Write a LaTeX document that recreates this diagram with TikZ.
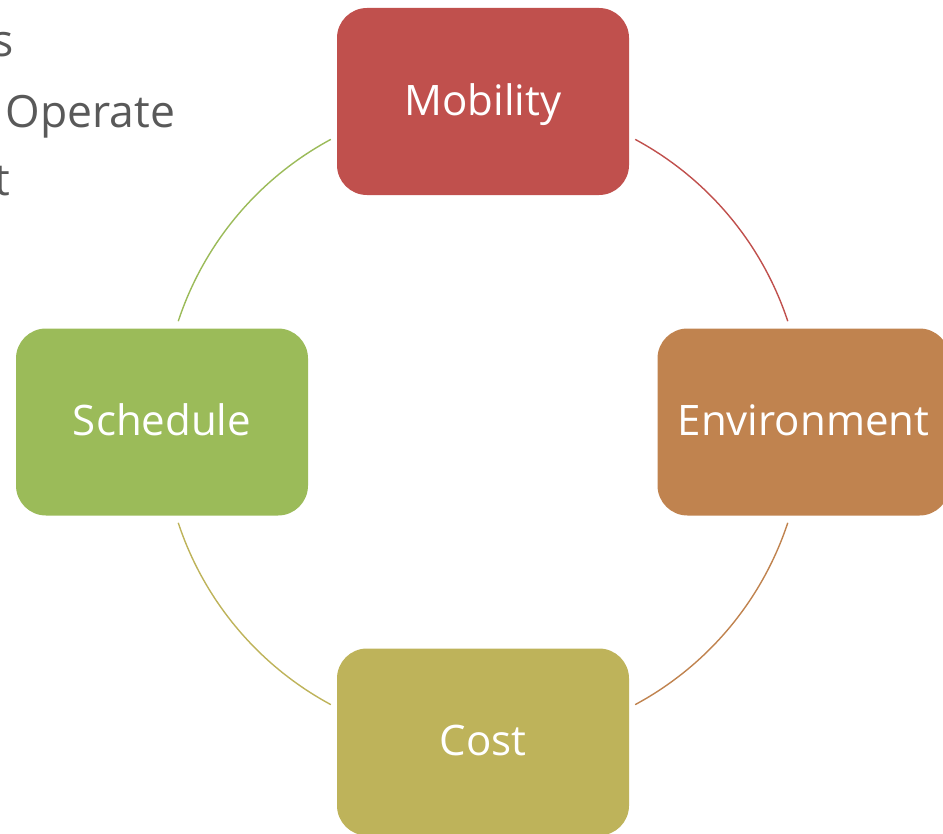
\documentclass[tikz,border=0pt]{standalone}
\usepackage{fontspec}
\setmainfont{Open Sans}
\definecolor{mobc}{HTML}{C0504D}
\definecolor{envc}{HTML}{C0834F}
\definecolor{costc}{HTML}{BEB35A}
\definecolor{schc}{HTML}{9BBB59}
\definecolor{txtc}{HTML}{595959}
\tikzset{
  topic/.style={rounded corners=0.6cm,minimum width=5.84cm,minimum height=3.74cm,inner sep=0pt,text=white,font=\fontsize{23.9}{28}\selectfont,text height=15.8pt,text depth=0pt},
  ring/.style={line width=0.8pt},
  side/.style={font=\fontsize{25.3}{30}\selectfont,text=txtc,inner sep=0pt},
}
\begin{document}
\begin{tikzpicture}
  \useasboundingbox (0,0) rectangle (18.86,-16.66);
  \clip (0,0) rectangle (18.86,-16.66);
  \node[side,anchor=base east] (s1) at (0.28,-1.14) {s};
  \node[side,anchor=base west] (s2) at (0.11,-2.56) {Operate};
  \node[side,anchor=base east] (s3) at (0.21,-3.92) {t};
  \coordinate (ctr) at (9.66,-8.44);
  \node[topic,fill=mobc] (mob) at (9.66,-2.03) {Mobility};
  \node[topic,fill=envc] (env) at (16.07,-8.44) {Environment};
  \node[topic,fill=costc] (cost) at (9.66,-14.84) {Cost};
  \node[topic,fill=schc] (sch) at (3.24,-8.44) {Schedule};
  \foreach \a/\c in {61.7/mobc,-18.3/envc,-118.3/costc,161.7/schc}
    \draw[ring,draw=\c] ([shift={(\a:6.42)}]ctr) arc[start angle=\a,delta angle=-43.4,radius=6.42];
\end{tikzpicture}
\end{document}
